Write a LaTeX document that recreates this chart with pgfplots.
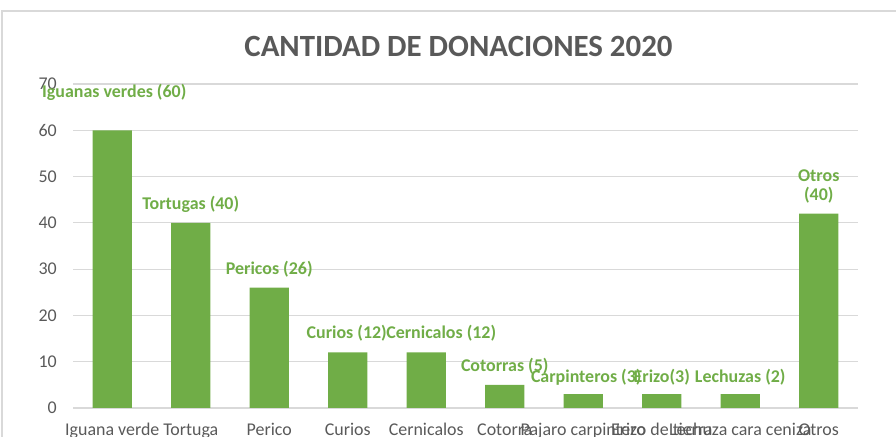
\documentclass[border=0pt]{standalone}
\usepackage{pgfplots}
\usepackage{pgfplotstable}
\pgfplotsset{compat=1.18}
\usepackage{fontspec}
\setmainfont{Carlito}
\definecolor{barg}{HTML}{70AD47}
\definecolor{txtg}{HTML}{595959}
\definecolor{gridg}{HTML}{D9D9D9}
\pgfplotstableread[col sep=comma]{
x,y,dx,dy,label
0,60,2,38,Iguanas verdes (60)
1,40,0,18,Tortugas (40)
2,26,0,18,Pericos (26)
3,12,-1,19,Curios (12)
4,12,15,19,Cernicalos (12)
5,5,0,19,Cotorras (5)
6,3,3,17,Carpinteros (3)
7,3,0,17,Erizo(3)
8,3,0,17,Lechuzas (2)
9,42,0,27,{Otros\\(40)}
}\datatable
\begin{document}
\begin{tikzpicture}
\useasboundingbox (0,0) rectangle (896bp,437bp);
\draw[gridg, line width=1.2bp] (2bp,0) -- (2bp,426bp) -- (896bp,426bp);
\node[font=\fontsize{31}{36}\selectfont\bfseries, text=txtg] at (458.5bp,391bp) {CANTIDAD DE DONACIONES 2020};
\begin{axis}[
  at={(73bp,29bp)}, anchor=south west,
  scale only axis,
  width=785bp, height=324bp,
  xmin=-0.5, xmax=9.5,
  ymin=0, ymax=70,
  ytick={0,10,...,70},
  xtick={0,...,9},
  xticklabels={Iguana verde,Tortuga,Perico,Curios,Cernicalos,Cotorra,Pajaro carpintero,Erizo de tierra,Lechuza cara ceniza,Otros},
  major tick length=0pt,
  axis x line*=bottom, axis y line*=left,
  y axis line style={draw=none},
  x axis line style={draw=gridg, line width=1.2bp},
  ymajorgrids,
  grid style={draw=gridg, line width=1.2bp},
  /pgf/number format/assume math mode=true,
  ticklabel style={font=\fontsize{18}{21}\selectfont, text=txtg},
  yticklabel style={anchor=east, inner sep=0pt, xshift=-16bp},
  xticklabel style={anchor=base, inner sep=0pt, yshift=-28bp},
  clip=false,
]
\addplot[ybar, bar width=0.5, fill=barg, draw=none,
  point meta=explicit symbolic,
  visualization depends on={\thisrow{dy} \as \dy},
  visualization depends on={\thisrow{dx} \as \dx},
  nodes near coords,
  every node near coord/.append style={anchor=center, yshift=\dy bp, xshift=\dx bp, align=center,
    font=\fontsize{18}{19.5}\selectfont\bfseries, text=barg, inner sep=0pt},
] table[x=x, y=y, meta=label] {\datatable};
\end{axis}
\end{tikzpicture}
\end{document}
